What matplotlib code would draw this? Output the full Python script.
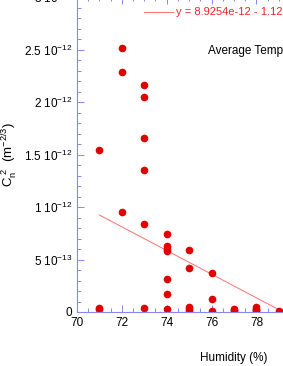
import numpy as np
import matplotlib
matplotlib.use("Agg")
import matplotlib.pyplot as plt
from matplotlib.ticker import FuncFormatter, MultipleLocator

plt.rcParams['font.family'] = ['Liberation Sans', 'DejaVu Sans']
plt.rcParams['mathtext.fontset'] = 'custom'
plt.rcParams['mathtext.rm'] = 'Liberation Sans'
plt.rcParams['mathtext.it'] = 'Liberation Sans'

# humidity (%) and Cn2 (m^-2/3)
humidity = [71, 71, 71,
            72, 72, 72,
            73, 73, 73, 73, 73, 73,
            74, 74, 74, 74, 74, 74, 74,
            75, 75, 75, 75, 75,
            76, 76, 76,
            77, 77, 77,
            78, 78, 78, 78,
            79]
cn2 = [1.54e-12, 0.40e-13, 0.30e-13,
       2.51e-12, 2.29e-12, 0.95e-12,
       2.16e-12, 2.05e-12, 1.66e-12, 1.35e-12, 0.84e-12, 0.40e-13,
       7.4e-13, 6.3e-13, 6.0e-13, 5.8e-13, 3.1e-13, 1.7e-13, 0.3e-13,
       5.9e-13, 4.2e-13, 0.47e-13, 0.29e-13, 0.1e-13,
       3.7e-13, 1.27e-13, 0.1e-13,
       0.3e-13, 0.15e-13, 0.05e-13,
       0.45e-13, 0.3e-13, 0.15e-13, 0.05e-13,
       0.12e-13]

# linear fit shown on the chart
fit_a = 8.9254e-12
fit_b = 1.127e-13
fit_x = np.array([71, 79])
fit_y = fit_a - fit_b*fit_x

def ylab(v, pos):
    if v == 0:
        return '0'
    e = int(np.floor(np.log10(abs(v)) + 1e-9))
    m = v/10**e
    ms = ('%.1f' % m).rstrip('0').rstrip('.')
    return ms + r' $\mathregular{10^{%d}}$' % e

fig = plt.figure(figsize=(2.83, 3.66), dpi=100)
ax = fig.add_axes([77/283, 54/366, 314/283, 315/366])

ax.plot(fit_x, fit_y, color='#ff7070', lw=0.7)
ax.plot(humidity, cn2, 'o', color='#e00000', ms=4.5, mec='#e00000')

ax.set_xlim(70, 84)
ax.set_ylim(0, 3e-12)
ax.xaxis.set_major_locator(MultipleLocator(2))
ax.xaxis.set_minor_locator(MultipleLocator(0.5))
ax.yaxis.set_major_locator(MultipleLocator(5e-13))
ax.yaxis.set_minor_locator(MultipleLocator(1e-13))
ax.yaxis.set_major_formatter(FuncFormatter(ylab))
ax.yaxis.get_offset_text().set_visible(False)

blue = '#8888ee'
for s in ax.spines.values():
    s.set_color(blue)
    s.set_linewidth(0.8)
ax.tick_params(which='both', direction='in', top=True, right=True,
               color=blue, labelsize=8.5, width=0.7)
ax.tick_params(which='major', length=5)
ax.tick_params(which='minor', length=3)

ax.set_xlabel('Humidity (%)', fontsize=8.5, labelpad=17)
ax.set_ylabel(r'C$_\mathregular{n}^\mathregular{\ 2}$  (m$^\mathregular{-2/3}$)', fontsize=9.5)
ax.yaxis.set_label_coords(-0.18, 0.5)

# legend made of a short line and text
ax.plot([73.0, 74.3], [2.86e-12, 2.86e-12], color='#ff7070', lw=0.7)
ax.text(74.42, 2.86e-12, 'y = 8.9254e-12 - 1.127e-13x', color='#ee2222',
        fontsize=8, va='center')
ax.text(75.85, 2.49e-12, 'Average Temperature', color='black',
        fontsize=8.5, va='center')

fig.savefig('out.png', dpi=100)
